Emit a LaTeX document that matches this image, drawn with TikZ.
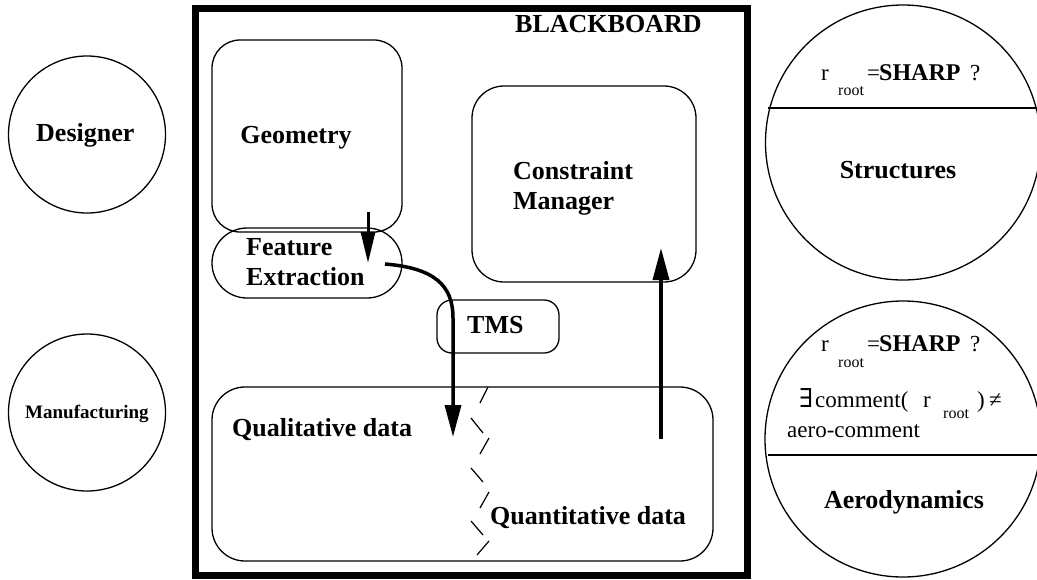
\documentclass[tikz,border=0pt]{standalone}
\usepackage{fontspec}
\setmainfont{Liberation Serif}
\newfontfamily\dvs{DejaVu Serif}
\usetikzlibrary{arrows.meta}
\begin{document}
\begin{tikzpicture}[x=1pt,y=-1pt,
  lbl/.style={font=\fontsize{26}{30}\selectfont\bfseries, inner sep=0pt, anchor=base west, align=left},
  plain/.style={font=\fontsize{23}{26}\selectfont, inner sep=0pt, anchor=base west},
  sub/.style={font=\fontsize{16}{18}\selectfont, inner sep=0pt, anchor=base west},
  sbold/.style={font=\fontsize{24}{26}\selectfont\bfseries, inner sep=0pt, anchor=base west},
  rbox/.style={draw, line width=1.3pt, inner sep=0pt, outer sep=0pt},
  agent/.style={draw, circle, line width=1.3pt, inner sep=0pt},
  flow/.style={line width=3.5pt, -{Triangle[length=32pt,width=16pt]}},
  zz/.style={line width=1.2pt}
]
\useasboundingbox (0,0) rectangle (1037,579);
\clip (0,0) rectangle (1037,579);

% blackboard frame
\node[draw, line width=7pt, inner sep=0pt, minimum width=551.5pt, minimum height=567pt] (bb) at (471.25,292) {};
\node[lbl] (bbt) at (515,32) {BLACKBOARD};

% boxes
\node[rbox, rounded corners=28pt, minimum width=190pt, minimum height=192pt] (geo) at (307,136) {};
\node[rbox, rounded corners=35pt, minimum width=190pt, minimum height=70pt] (fe) at (307,263) {};
\node[rbox, rounded corners=32pt, minimum width=224pt, minimum height=196pt] (cm) at (584,184) {};
\node[rbox, rounded corners=15pt, minimum width=122pt, minimum height=53pt] (tms) at (498,326.5) {};
\node[rbox, rounded corners=33pt, minimum width=501pt, minimum height=174pt] (data) at (462.5,474) {};

% box texts
\node[lbl, anchor=base] (geot) at (296,143) {Geometry};
\node[lbl] (fet) at (246,285) {Feature\\Extraction};
\node[lbl] (cmt) at (513,209) {Constraint\\Manager};
\node[lbl] (tmst) at (467,333) {TMS};
\node[lbl] (qual) at (232,436) {Qualitative data};
\node[lbl] (quan) at (490,524) {Quantitative data};

% zigzag divider
\draw[zz] (488,387) -- (480,403);
\draw[zz] (471,418) -- (483,433);
\draw[zz] (489,438) -- (480,454);
\draw[zz] (471,468) -- (483,482);
\draw[zz] (489,492) -- (480,508);
\draw[zz] (471,521) -- (483,535);
\draw[zz] (489,541) -- (477,555);

% arrows
\coordinate (a1s) at (368,212);
\coordinate (a1e) at (368,263);
\draw[line width=3pt, -{Triangle[length=31pt,width=14pt]}] (a1s) -- (a1e);
\coordinate (a2s) at (385,264);
\coordinate (a2e) at (453,437);
\draw[flow] (a2s) .. controls (434,268) and (453,285) .. (453,318) -- (a2e);
\coordinate (a3s) at (661,439);
\coordinate (a3e) at (661,248);
\draw[flow] (a3s) -- (a3e);

% left agents
\node[agent, minimum size=157pt] (des) at (87,134.5) {};
\node[lbl] (dest) at (36,141) {Designer};
\node[agent, minimum size=157pt] (man) at (87,412.5) {};
\node[font=\fontsize{19}{22}\selectfont\bfseries, inner sep=0pt, anchor=base west] (mant) at (25,418) {Manufacturing};

% right agents
\node[agent, minimum size=275pt] (str) at (903,142.5) {};
\draw[line width=1.3pt] (768,108) -- (1037,108);
\node[plain] (s1) at (821,80) {r};
\node[sub] (s2) at (838,95) {root};
\node[plain] (s3) at (867,80) {=};
\node[sbold] (s4) at (879,80) {SHARP};
\node[plain] (s5) at (970,80) {?};
\node[lbl, anchor=base] (strt) at (898,178) {Structures};

\node[agent, minimum size=276pt] (aer) at (903,439) {};
\draw[line width=1.3pt] (768,455) -- (1037,455);
\node[plain] (a1) at (821,351) {r};
\node[sub] (a2) at (838,367) {root};
\node[plain] (a3) at (867,351) {=};
\node[sbold] (a4) at (879,351) {SHARP};
\node[plain] (a5) at (970,351) {?};
\node[font=\fontsize{26}{28}\selectfont, inner sep=0pt, anchor=base west] (b1) at (799,407) {\dvs ∃};
\node[plain] (b2) at (815,407) {comment(};
\node[plain] (b3) at (923,407) {r};
\node[sub] (b4) at (943,418) {root};
\node[plain] (b5) at (977,407) {)};
\node[plain] (b6) at (989,407) {≠};
\node[plain] (c1) at (787,437) {aero-comment};
\node[lbl, anchor=base] (aert) at (904,508) {Aerodynamics};
\end{tikzpicture}
\end{document}
